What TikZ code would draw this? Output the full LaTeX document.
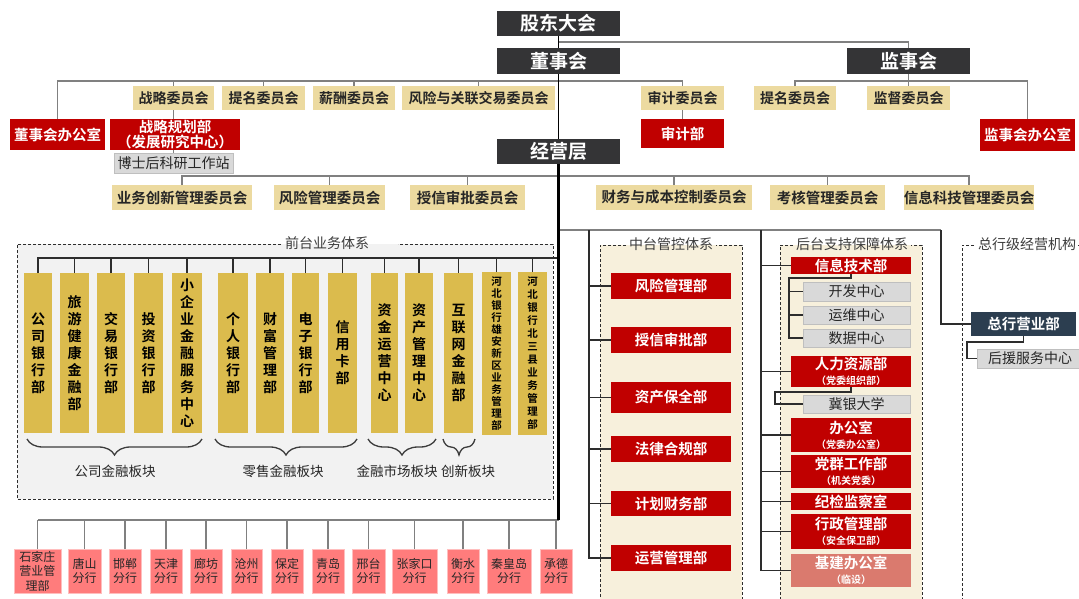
\documentclass[tikz,border=0pt]{standalone}
\usepackage{fontspec}
\setmainfont{Noto Sans CJK SC}[BoldFont={Noto Sans CJK SC Bold}]
\usetikzlibrary{decorations.pathreplacing}
\definecolor{darkc}{RGB}{52,52,54}
\definecolor{slatec}{RGB}{44,62,80}
\definecolor{tanc}{RGB}{236,218,160}
\definecolor{redc}{RGB}{192,0,0}
\definecolor{redlc}{RGB}{218,122,110}
\definecolor{grayc}{RGB}{217,217,217}
\definecolor{grayb}{RGB}{191,191,191}
\definecolor{goldc}{RGB}{219,187,77}
\definecolor{pinkc}{RGB}{255,124,124}
\definecolor{pinkb}{RGB}{255,190,190}
\definecolor{beigec}{RGB}{247,240,220}
\definecolor{frontc}{RGB}{242,242,242}
\definecolor{lnc}{RGB}{128,128,128}
\definecolor{dlc}{RGB}{45,45,45}
\definecolor{txtc}{RGB}{38,38,38}
\definecolor{ttlc}{RGB}{60,60,60}
\newcommand\bx[7]{\node[#6, minimum width={(#4-#2)*1pt}, minimum height={(#5-#3)*1pt}] (#1) at ({(#2+#4)/2},{(#3+#5)/2}) {#7};}
\newcommand\subt[1]{{\fontsize{10}{12}\selectfont #1}}
\tikzset{
  sbase/.style={inner sep=0pt, outer sep=0pt, align=center},
  sdk/.style={sbase, fill=darkc, text=white, font=\bfseries\fontsize{19}{21}\selectfont},
  ssl/.style={sbase, fill=slatec, text=white, font=\bfseries\fontsize{14.5}{16}\selectfont},
  scm/.style={sbase, fill=tanc, text=txtc, font=\bfseries\fontsize{14}{16}\selectfont},
  scmb/.style={sbase, fill=tanc, text=txtc, font=\bfseries\fontsize{14.5}{16}\selectfont},
  srd/.style={sbase, fill=redc, text=white, font=\bfseries\fontsize{14.5}{15}\selectfont},
  srdl/.style={sbase, fill=redlc, text=white, font=\bfseries\fontsize{14.5}{15}\selectfont},
  sgy/.style={sbase, fill=grayc, draw=grayb, line width=0.8pt, text=txtc, font=\fontsize{14}{16}\selectfont},
  sgdu/.style={sbase, fill=goldc, text=black, font=\bfseries\fontsize{14}{17}\selectfont},
  sgds/.style={sbase, fill=goldc, text=black, font=\bfseries\fontsize{10.5}{12}\selectfont},
  sgdt/.style={sbase, fill=goldc, text=black, font=\bfseries\fontsize{10.5}{13}\selectfont},
  spk/.style={sbase, fill=pinkc, draw=pinkb, line width=0.8pt, text=txtc, font=\fontsize{12}{14.5}\selectfont},
  sttl/.style={inner sep=1pt, text=ttlc, font=\fontsize{14}{16}\selectfont},
  slbl/.style={inner sep=0pt, text=txtc, font=\fontsize{13.5}{16}\selectfont},
  sln/.style={draw=lnc, line width=1.4pt},
  sln2/.style={draw=lnc, line width=2pt},
  sdl/.style={draw=dlc, line width=1.1pt},
  str1/.style={draw=black, line width=1.6pt},
  str2/.style={draw=black, line width=2.4pt},
  spnl/.style={draw=dlc, line width=0.9pt, dash pattern=on 3pt off 2pt},
  sbrc/.style={draw=ttlc, line width=1.3pt, decorate, decoration={brace, amplitude=16pt}}
}
\begin{document}
\begin{tikzpicture}[x=1pt,y=-1pt]
\useasboundingbox (0,0) rectangle (1079,598);
\clip (0,0) rectangle (1079,598);
\fill[white] (0,0) rectangle (1079,598);
% panels
\fill[frontc] (17,244) rectangle (553,499);
\draw[spnl] (281,244) -- (17,244) -- (17,499) -- (553,499) -- (553,244) -- (398,244);
\fill[beigec] (600,245) rectangle (742,610);
\draw[spnl] (626,245) -- (600,245) -- (600,610);
\draw[spnl] (742,610) -- (742,245) -- (716,245);
\fill[beigec] (780,245) rectangle (922,610);
\draw[spnl] (793,245) -- (780,245) -- (780,610);
\draw[spnl] (922,610) -- (922,245) -- (911,245);
\draw[spnl] (974,245) -- (962,245) -- (962,610);
\draw[spnl] (1078,245) -- (1090,245);
\node[sttl] (t1) at (327,243) {前台业务体系};
\node[sttl] (t2) at (671,244) {中台管控体系};
\node[sttl] (t3) at (852,244) {后台支持保障体系};
\node[sttl] (t4) at (1027,244) {总行级经营机构};
% top
\bx{gddh}{497}{11}{620}{36}{sdk}{股东大会}
\bx{dsh}{497}{48}{620}{74}{sdk}{董事会}
\bx{jsh}{847}{48}{970}{74}{sdk}{监事会}
\bx{jyc}{497}{139}{620}{164}{sdk}{经营层}
% board committees
\bx{zlwy}{133}{86}{214}{110}{scm}{战略委员会}
\bx{tmwy}{222}{86}{305}{110}{scm}{提名委员会}
\bx{xcwy}{313}{86}{395}{110}{scm}{薪酬委员会}
\bx{fxwy}{402}{86}{555}{110}{scm}{风险与关联交易委员会}
\bx{sjwy}{641}{86}{724}{110}{scm}{审计委员会}
\bx{jtmwy}{754}{86}{836}{110}{scm}{提名委员会}
\bx{jdwy}{867}{86}{950}{110}{scm}{监督委员会}
\bx{dsbgs}{10}{119}{105}{150}{srd}{董事会办公室}
\bx{zlgh}{110}{119}{240}{150}{srd}{战略规划部\\（发展研究中心）}
\bx{bsh}{114}{153}{233}{173}{sgy}{博士后科研工作站}
\bx{sjb}{641}{119}{724}{148}{srd}{审计部}
\bx{jsbgs}{980}{119}{1075}{151}{srd}{监事会办公室}
% management committees
\bx{ywcx}{112}{185}{252}{210}{scmb}{业务创新管理委员会}
\bx{fxgl}{274}{185}{385}{210}{scmb}{风险管理委员会}
\bx{sxsp}{410}{185}{525}{210}{scmb}{授信审批委员会}
\bx{cwcb}{596}{185}{752}{210}{scmb}{财务与成本控制委员会}
\bx{khgl}{770}{185}{885}{210}{scmb}{考核管理委员会}
\bx{xxkj}{904}{185}{1034}{210}{scmb}{信息科技管理委员会}
% middle
\bx{m1}{611}{273}{731}{299}{srd}{风险管理部}
\bx{m2}{611}{327}{731}{353}{srd}{授信审批部}
\bx{m3}{611}{382}{731}{413}{srd}{资产保全部}
\bx{m4}{611}{436}{731}{462}{srd}{法律合规部}
\bx{m5}{611}{491}{731}{516}{srd}{计划财务部}
\bx{m6}{611}{545}{731}{571}{srd}{运营管理部}
% back
\bx{b1}{791}{257}{911}{274}{srd}{信息技术部}
\bx{b1a}{803}{282}{910}{301}{sgy}{开发中心}
\bx{b1b}{803}{306}{910}{324}{sgy}{运维中心}
\bx{b1c}{803}{329}{910}{347}{sgy}{数据中心}
\bx{b2}{791}{356}{911}{387}{srd}{人力资源部\\\subt{（党委组织部）}}
\bx{b2a}{803}{395}{910}{413}{sgy}{冀银大学}
\bx{b3}{791}{418}{911}{452}{srd}{办公室\\\subt{（党委办公室）}}
\bx{b4}{791}{455}{911}{488}{srd}{党群工作部\\\subt{（机关党委）}}
\bx{b5}{791}{493}{911}{510}{srd}{纪检监察室}
\bx{b6}{791}{514}{911}{549}{srd}{行政管理部\\\subt{（安全保卫部）}}
\bx{b7}{791}{554}{911}{587}{srdl}{基建办公室\\\subt{（临设）}}
% head office
\bx{zhy}{971}{312}{1076}{336}{ssl}{总行营业部}
\bx{hyfw}{977}{349}{1083}{368}{sgy}{后援服务中心}
% front
\bx{f1}{24}{273}{52}{433}{sgdu}{公\\司\\银\\行\\部}
\bx{f2}{60}{273}{89}{433}{sgdu}{旅\\游\\健\\康\\金\\融\\部}
\bx{f3}{97}{273}{125}{433}{sgdu}{交\\易\\银\\行\\部}
\bx{f4}{134}{273}{163}{433}{sgdu}{投\\资\\银\\行\\部}
\bx{f5}{172}{273}{202}{433}{sgdu}{小\\企\\业\\金\\融\\服\\务\\中\\心}
\bx{f6}{218}{273}{248}{433}{sgdu}{个\\人\\银\\行\\部}
\bx{f7}{256}{273}{284}{433}{sgdu}{财\\富\\管\\理\\部}
\bx{f8}{292}{273}{319}{433}{sgdu}{电\\子\\银\\行\\部}
\bx{f9}{328}{273}{357}{433}{sgdu}{信\\用\\卡\\部}
\bx{f10}{371}{273}{398}{433}{sgdu}{资\\金\\运\\营\\中\\心}
\bx{f11}{405}{273}{433}{433}{sgdu}{资\\产\\管\\理\\中\\心}
\bx{f12}{444}{273}{473}{433}{sgdu}{互\\联\\网\\金\\融\\部}
\bx{f13}{482}{272}{511}{435}{sgds}{河\\北\\银\\行\\雄\\安\\新\\区\\业\\务\\管\\理\\部}
\bx{f14}{518}{272}{547}{435}{sgdt}{河\\北\\银\\行\\北\\三\\县\\业\\务\\管\\理\\部}
% braces
\draw[sbrc] (202,439) -- (27,439);
\draw[sbrc] (357,439) -- (215,439);
\draw[sbrc] (436,439) -- (368,439);
\draw[sbrc] (475,439) -- (443,439);
\node[slbl] (l1) at (115,471) {公司金融板块};
\node[slbl] (l2) at (283,471) {零售金融板块};
\node[slbl] (l3) at (397,471) {金融市场板块};
\node[slbl] (l4) at (468,471) {创新板块};
% branches
\bx{r1}{14}{549}{61}{593}{spk}{石家庄\\营业管\\理部}
\bx{r2}{68}{549}{101}{593}{spk}{唐山\\分行}
\bx{r3}{109}{549}{141}{593}{spk}{邯郸\\分行}
\bx{r4}{150}{549}{182}{593}{spk}{天津\\分行}
\bx{r5}{190}{549}{222}{593}{spk}{廊坊\\分行}
\bx{r6}{231}{549}{262}{593}{spk}{沧州\\分行}
\bx{r7}{271}{549}{303}{593}{spk}{保定\\分行}
\bx{r8}{312}{549}{344}{593}{spk}{青岛\\分行}
\bx{r9}{352}{549}{385}{593}{spk}{邢台\\分行}
\bx{r10}{392}{549}{437}{593}{spk}{张家口\\分行}
\bx{r11}{447}{549}{479}{593}{spk}{衡水\\分行}
\bx{r12}{487}{549}{531}{593}{spk}{秦皇岛\\分行}
\bx{r13}{540}{549}{572}{593}{spk}{承德\\分行}
% helper coordinates
\coordinate (h1) at (0,81);
\coordinate (h2) at (0,176);
\coordinate (h3) at (0,230);
\coordinate (h4) at (0,258);
\coordinate (h5) at (0,520);
\coordinate (mx) at (589,230);
\coordinate (bx) at (761,230);
\coordinate (ox) at (941,230);
\coordinate (c1) at (789,278);
\coordinate (c2) at (775,392);
\coordinate (c3) at (967,342);
% connectors (top)
\draw[sln] (gddh.south) ++(0,6) -| (jsh.north);
\draw[str1] (gddh.south) -- (dsh.north);
\draw[sln] (dsbgs.north) -- (dsbgs.north |- h1) -- (sjwy.north |- h1) -- (sjwy.north);
\foreach \n in {zlwy,tmwy,xcwy,fxwy} \draw[sln] (\n.north) -- (\n.north |- h1);
\draw[sln] (zlwy.south) -- (zlgh.north -| zlwy.south);
\draw[sln] (zlgh.south -| bsh.north) -- (bsh.north);
\draw[sln] (sjwy.south) -- (sjb.north);
\draw[sln] (jtmwy.north) -- (jtmwy.north |- h1) -- (jsbgs.north |- h1) -- (jsbgs.north);
\draw[sln] (jsh.south) -- (jdwy.north);
\draw[str1] (dsh.south) -- (jyc.north);
\draw[sln] (ywcx.north) -- (ywcx.north |- h2) -- (xxkj.north |- h2) -- (xxkj.north);
\foreach \n in {fxgl,sxsp,cwcb,khgl} \draw[sln] (\n.north) -- (\n.north |- h2);
% trunk
\draw[sln] (jyc.south |- h3) -- (ox);
\draw[sdl] (mx) -- (mx |- m6.west) -- (m6.west);
\foreach \n in {m1,m2,m3,m4,m5} \draw[sdl] (mx |- \n.west) -- (\n.west);
\draw[sdl] (bx) -- (bx |- b7.west) -- (b7.west);
\foreach \n in {b1,b2,b3,b4,b5,b6} \draw[sdl] (bx |- \n.west) -- (\n.west);
\draw[sdl] (b1.south) |- (c1) -- (c1 |- b1c.west) -- (b1c.west);
\draw[sdl] (c1 |- b1a.west) -- (b1a.west);
\draw[sdl] (c1 |- b1b.west) -- (b1b.west);
\draw[sdl] (b2.south) |- (c2) |- (b2a.west);
\draw[sdl] (ox) -- (ox |- zhy.west) -- (zhy.west);
\draw[sdl] (zhy.south) |- (c3) |- (hyfw.west);
\draw[sdl] (f1.north) -- (f1.north |- h4) -- (jyc.south |- h4);
\foreach \n in {f2,f3,f4,f5,f6,f7,f8,f9,f10,f11,f12,f13,f14} \draw[sdl] (\n.north) -- (\n.north |- h4);
\draw[sln2] (jyc.south |- h5) -- (r1.north |- h5);
\foreach \n in {r1,r2,r3,r4,r5,r6,r7,r8,r9,r10,r11,r12,r13} \draw[sln] (\n.north) -- (\n.north |- h5);
\draw[str2] (jyc.south) -- (jyc.south |- h5);
\end{tikzpicture}
\end{document}
